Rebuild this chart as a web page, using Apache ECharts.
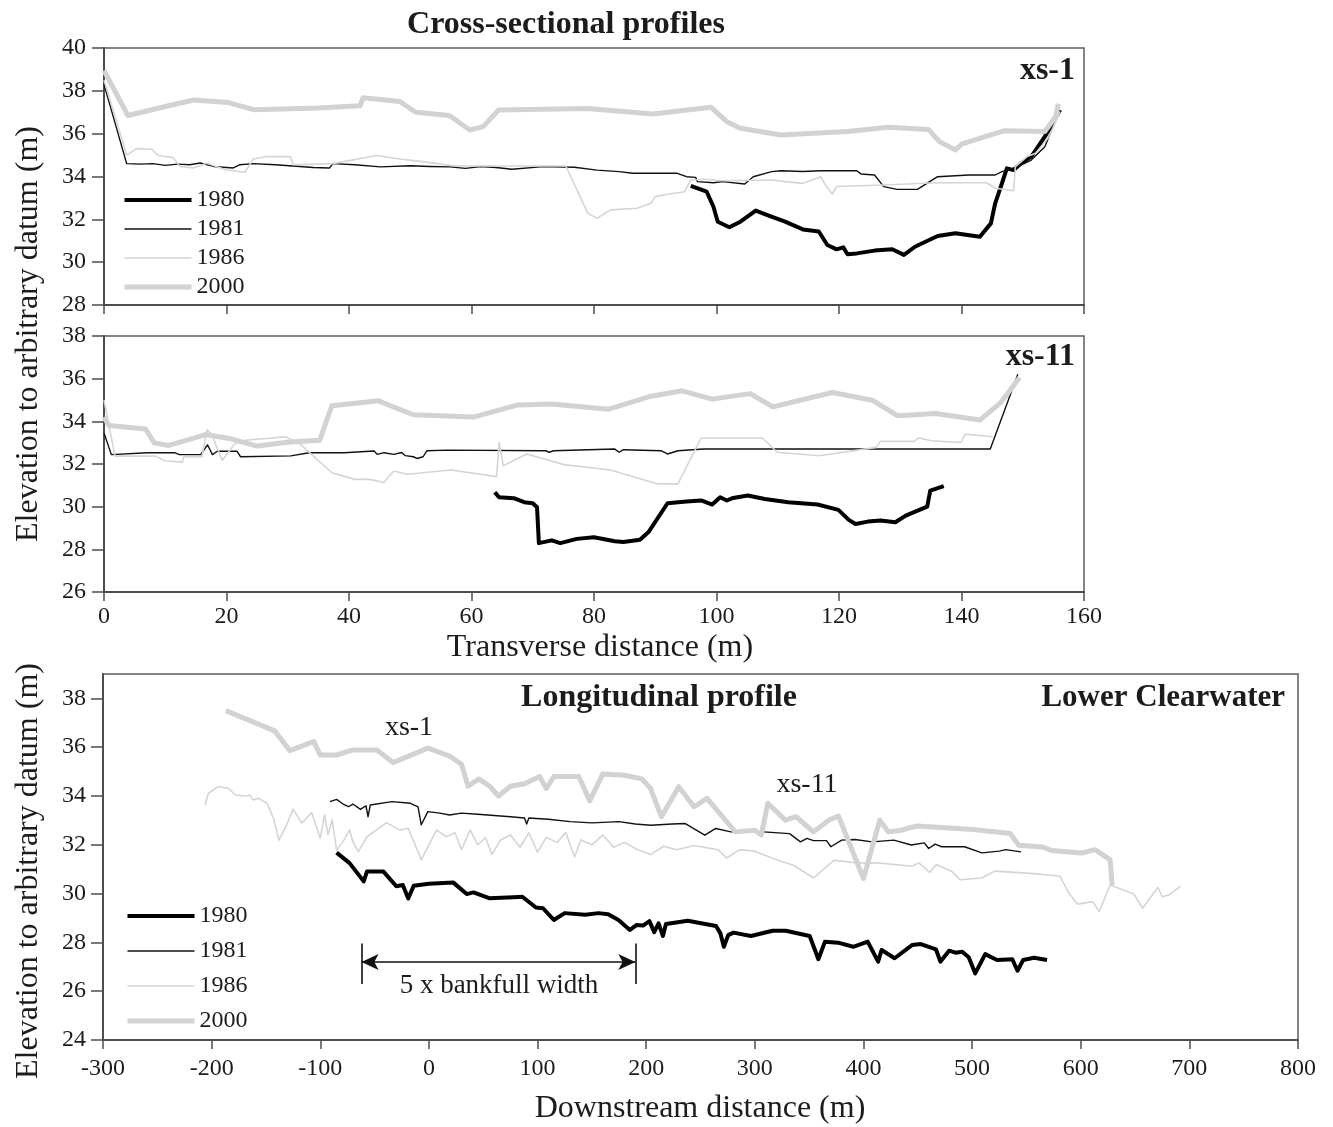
<!DOCTYPE html>
<html>
<head>
<meta charset="utf-8">
<script src="https://cdn.jsdelivr.net/npm/echarts@6/dist/echarts.min.js"></script>
<style>
  html, body { margin: 0; padding: 0; background: #ffffff; }
  #chart { width: 1333px; height: 1127px; }
</style>
</head>
<body>
<div id="chart"></div>
<script>
// Survey years shown in every panel
const years = ['1980', '1981', '1986', '2000'];

// Axis ticks
const transverseTicks = [0, 20, 40, 60, 80, 100, 120, 140, 160];
const longTicks = [-300, -200, -100, 0, 100, 200, 300, 400, 500, 600, 700, 800];
const elevTicksXs1 = [28, 30, 32, 34, 36, 38, 40];
const elevTicksXs11 = [26, 28, 30, 32, 34, 36, 38];
const elevTicksLong = [24, 26, 28, 30, 32, 34, 36, 38];

// Cross-section xs-1: [transverse distance (m), elevation (m)]
const xs1_1980 = [[95.8,33.56],[98.4,33.29],[99.5,32.59],[100.2,31.89],[102.1,31.63],[103.9,31.89],[106.4,32.41],[108.3,32.2],[111.2,31.89],[114.1,31.53],[116.7,31.43],[118.1,30.8],[119.6,30.6],[120.7,30.69],[121.4,30.37],[122.9,30.41],[125.8,30.54],[128.7,30.6],[130.6,30.34],[132.4,30.72],[136.1,31.22],[139,31.35],[143,31.19],[144.8,31.81],[145.5,32.75],[146.6,33.68],[147.4,34.38],[148.5,34.3],[149.9,34.65],[151.4,34.93],[153.6,35.86],[156.1,37.1]];
const xs1_1981 = [[0,38.3],[3.7,34.6],[6,34.58],[8,34.6],[10,34.52],[12,34.58],[14,34.55],[15.7,34.63],[17.9,34.47],[21.1,34.4],[22.2,34.55],[24.4,34.6],[28,34.55],[34.2,34.42],[36.8,34.4],[37.4,34.6],[41,34.55],[45.1,34.45],[50,34.5],[53.2,34.47],[56.5,34.45],[59,34.38],[61.5,34.46],[64,34.42],[66.6,34.34],[71.7,34.46],[76.8,34.43],[80.5,34.3],[84.1,34.23],[86.3,34.15],[93.6,34.15],[95.1,33.99],[96.6,33.96],[96.9,33.76],[99.5,33.71],[101,33.76],[104.6,33.65],[106,33.99],[109,34.23],[110.5,34.27],[114.1,34.23],[117,34.27],[122.9,34.27],[123.6,34.12],[125.8,34.07],[127.3,33.53],[129.5,33.4],[132.8,33.4],[136.1,33.99],[141.2,34.07],[145.5,34.07],[146.6,34.23],[149.2,34.46],[151.4,34.77],[153.6,35.39],[156.1,37.1]];
const xs1_1986 = [[0,38.5],[3.7,35.0],[5.3,35.3],[7.8,35.27],[8.9,34.98],[11.3,34.88],[12.4,34.47],[14.6,34.4],[16.8,34.62],[20,34.3],[23,34.2],[24.4,34.82],[26.6,34.93],[30.4,34.93],[30.9,34.55],[37.4,34.6],[44.5,34.98],[48.3,34.82],[52.7,34.67],[56.5,34.52],[58.9,34.49],[75.4,34.49],[79,32.28],[80.5,32.05],[82.7,32.44],[87,32.52],[89.3,32.75],[90,33.06],[92.2,33.18],[94.8,33.29],[95.8,33.84],[98,33.87],[101,33.8],[109,33.84],[111.2,33.76],[114.1,33.68],[117,33.99],[117.8,33.6],[118.9,33.18],[119.6,33.53],[127.3,33.6],[136,33.71],[144.1,33.71],[145.5,33.45],[148.5,33.34],[148.8,34.46],[150.7,34.93],[152.1,35.08],[154.3,35.86],[156.1,37.03]];
const xs1_2000 = [[0,38.95],[3.9,36.85],[9,37.2],[14.6,37.57],[20.3,37.45],[24.4,37.12],[35,37.2],[41.8,37.3],[42.3,37.68],[48.3,37.5],[50.9,37.0],[56.4,36.85],[59.7,36.17],[61.9,36.33],[64.4,37.1],[79,37.18],[89.6,36.92],[99.1,37.23],[101.7,36.56],[103.9,36.25],[110.5,35.94],[121.4,36.1],[128,36.3],[134.6,36.2],[136.4,35.63],[139,35.24],[140.1,35.52],[147,36.14],[153.6,36.1],[155.4,36.8],[155.8,37.4]];

// Cross-section xs-11
const xs11_1980 = [[63.8,30.68],[64.5,30.44],[66.9,30.4],[68.6,30.21],[70,30.16],[70.7,29.97],[71,28.29],[73.1,28.42],[74.5,28.29],[77.2,28.49],[80,28.57],[83.4,28.38],[84.8,28.34],[87.5,28.45],[88.9,28.81],[92,30.16],[95.1,30.24],[97.5,30.29],[99.3,30.1],[100.6,30.44],[101.7,30.29],[102.7,30.41],[105.1,30.52],[107.9,30.36],[111.7,30.21],[116.5,30.1],[119.9,29.85],[121.6,29.38],[122.7,29.19],[124.7,29.3],[126.8,29.35],[129.2,29.27],[130.9,29.58],[134.4,30.0],[134.9,30.75],[137.1,30.96]];
const xs11_1981 = [[0,33.45],[1.2,32.44],[7.1,32.53],[11.5,32.53],[12.3,32.44],[15.8,32.44],[16.9,32.9],[17.7,32.44],[18.5,32.6],[21.7,32.6],[22.3,32.34],[30.5,32.38],[33.5,32.53],[39.2,32.53],[39.4,32.61],[44.1,32.61],[44.6,32.45],[45.7,32.53],[47.3,32.45],[48.6,32.54],[49.2,32.39],[50.5,32.34],[51.1,32.26],[52.1,32.34],[52.7,32.62],[56,32.65],[72.1,32.62],[72.7,32.55],[73.4,32.62],[83.4,32.7],[84.1,32.55],[84.8,32.67],[91,32.62],[92,32.47],[93.7,32.62],[97.9,32.7],[144.7,32.7],[149.2,36.21]];
const xs11_1986 = [[0,35.0],[1.8,32.37],[8.4,32.37],[10,32.14],[12.8,32.09],[13,32.34],[16,32.34],[16.8,33.61],[17.6,33.38],[19.3,32.18],[21.4,32.96],[23.1,33.11],[29.6,33.27],[31.8,32.99],[37.2,31.59],[41,31.28],[43.4,31.28],[45.7,31.13],[47.3,31.67],[49.5,31.52],[56.6,31.72],[64.1,31.41],[64.5,33.01],[65.2,31.92],[69,32.47],[75.1,31.97],[82.7,31.72],[90.3,31.07],[93.7,31.07],[97.5,33.22],[107.5,33.22],[109.9,32.55],[116.8,32.39],[126.1,32.78],[126.8,33.06],[132.3,33.06],[133,33.22],[135.1,33.09],[139.9,33.01],[140.6,33.4],[145.1,33.28]];
const xs11_2000 = [[0,34.2],[0.8,33.8],[6.8,33.64],[8.2,32.99],[10.6,32.87],[16.6,33.38],[20.7,33.18],[25,32.84],[29.9,33.02],[35.2,33.11],[37.2,34.73],[44.8,34.96],[50.5,34.31],[60.3,34.2],[67.6,34.77],[73.1,34.81],[82.4,34.57],[88.9,35.15],[94.4,35.43],[99.3,35.04],[105.5,35.3],[109.2,34.68],[118.9,35.35],[125.4,34.99],[129.6,34.26],[135.8,34.37],[143,34.06],[146.4,34.88],[149.5,36.05]];

// Longitudinal thalweg profile: [downstream distance (m), elevation (m)]
const long_1980 = [[-85,31.68],[-73,31.25],[-60,30.5],[-57,30.91],[-42,30.91],[-30,30.3],[-24,30.35],[-19,29.8],[-14,30.32],[0,30.4],[22.5,30.45],[34.8,29.98],[41,30.05],[55.4,29.81],[78,29.85],[86,29.87],[98.5,29.43],[105,29.4],[115,28.92],[125,29.2],[144,29.13],[156,29.2],[165,29.15],[174.5,28.92],[185,28.51],[191,28.71],[197,28.69],[203,28.87],[207.4,28.42],[211.4,28.78],[215.4,28.26],[218.2,28.75],[238.3,28.89],[264.3,28.67],[268.3,28.37],[271.5,27.82],[275.5,28.3],[280.4,28.4],[296.4,28.26],[316.4,28.48],[328.5,28.48],[350.5,28.26],[358.5,27.31],[364.6,28.03],[376.6,27.99],[390.6,27.82],[403.9,28.03],[413.5,27.21],[416.7,27.69],[428.7,27.35],[444.7,27.89],[452.8,27.93],[466.8,27.71],[470.8,27.21],[478.8,27.66],[484.8,27.58],[490.9,27.62],[496.9,27.39],[502.9,26.73],[512.1,27.52],[522.9,27.28],[537,27.31],[541.8,26.84],[547,27.28],[557,27.37],[569,27.28]];
const long_1981 = [[-91,33.77],[-85,33.86],[-79,33.67],[-74,33.56],[-70,33.67],[-63,33.45],[-58,33.6],[-56,33.15],[-54,33.63],[-34,33.77],[-17,33.7],[-10,33.55],[-7,32.82],[-1,33.36],[10,33.3],[19,33.22],[30,33.3],[45,33.25],[60,33.2],[75,33.15],[88,33.1],[90,32.85],[92,33.1],[110,33.05],[130,32.95],[150,32.9],[175,32.95],[190,32.85],[204,32.8],[224,32.85],[236,32.87],[254,32.4],[264,32.67],[278,32.53],[308,32.53],[332,32.46],[342,32.12],[348,32.26],[354,32.17],[366,32.17],[370,31.92],[380,32.19],[392,32.22],[408,32.12],[428,32.19],[444,31.99],[456,32.08],[460,31.85],[466,32.03],[472,31.92],[493,31.92],[509,31.67],[525,31.74],[531,31.8],[545,31.71]];
const long_1986 = [[-206,33.63],[-203,34.11],[-194,34.39],[-185,34.32],[-178,34.04],[-168,34.0],[-165,34.04],[-162,33.84],[-157,33.91],[-149,33.7],[-143,33.08],[-138,32.19],[-131,32.81],[-125,33.46],[-117,32.89],[-108,33.32],[-100,32.27],[-96,33.23],[-93,32.41],[-89,33.02],[-85,31.79],[-79,32.13],[-73,32.61],[-70,32.13],[-65,31.72],[-57,32.33],[-39,32.91],[-27,32.61],[-19,32.68],[-7,31.38],[7,32.61],[16,32.33],[24,32.5],[30,31.8],[38,32.6],[45,32.0],[52,32.3],[58,31.6],[66,32.2],[75,32.4],[84,31.9],[92,32.5],[100,31.7],[108,32.3],[118,32.1],[126,32.5],[134,31.5],[140,32.2],[150,32.0],[160,32.4],[170,31.9],[180,32.1],[192,31.8],[204,31.6],[216,31.94],[228,31.8],[244,31.97],[266,31.8],[274,31.46],[286,31.8],[300,31.74],[320,31.39],[336,31.15],[354,30.64],[373,31.37],[393,31.26],[413,31.26],[445,31.12],[451,31.26],[461,30.87],[467,31.19],[481,30.92],[489,30.57],[509,30.64],[521,30.92],[557,30.82],[581,30.71],[589,30.03],[597,29.57],[611,29.67],[617,29.26],[627,30.35],[649,29.98],[657,29.4],[671,30.26],[675,29.87],[681,29.94],[692,30.31]];
const long_2000 = [[-187,37.5],[-142,36.67],[-128,35.86],[-106,36.23],[-100,35.68],[-85,35.68],[-70,35.89],[-48,35.89],[-33,35.37],[-1,35.96],[19,35.64],[30,35.3],[36,34.4],[46,34.7],[56,34.4],[64,34.0],[75,34.4],[88,34.5],[102,34.8],[108,34.3],[115,34.8],[138,34.8],[148,33.8],[160,34.9],[180,34.85],[196,34.7],[204,34.31],[214,33.15],[230,34.38],[244,33.56],[256,33.9],[282,32.53],[300,32.6],[306,32.4],[312,33.7],[328,33.01],[338,33.15],[354,32.53],[368,33.01],[377,33.18],[400,30.62],[415,33.01],[423,32.53],[435,32.6],[449,32.77],[501,32.63],[535,32.46],[543,31.98],[565,31.91],[573,31.77],[601,31.66],[613,31.8],[627,31.39],[629,30.34]];

// Reach length bar: five bankfull widths
const bankfullSpan = [-62, 190];
const bankfullLevel = 27.2;
const bankfullBar = [26.3, 27.95];

const FONT = '"Liberation Serif", "Times New Roman", serif';
const AXIS_COLOR = '#4d4d4d';
const TEXT_COLOR = '#1c1c1c';

const lineLook = {
  '1980': { color: '#000000', width: 4 },
  '1981': { color: '#111111', width: 1.4 },
  '1986': { color: '#d5d5d5', width: 1.6 },
  '2000': { color: '#d2d2d2', width: 5 }
};

function profile(name, data, idx) {
  return {
    name: name,
    type: 'line',
    xAxisIndex: idx,
    yAxisIndex: idx,
    data: data,
    symbol: 'none',
    smooth: false,
    lineStyle: { color: lineLook[name].color, width: lineLook[name].width, join: 'round' },
    itemStyle: { color: lineLook[name].color },
    emphasis: { disabled: true },
    z: 2
  };
}

function xAxisDef(idx, min, max, interval, showLabels, labelMargin) {
  return {
    type: 'value', gridIndex: idx, min: min, max: max, interval: interval,
    splitLine: { show: false },
    axisLine: { onZero: false, lineStyle: { color: AXIS_COLOR, width: 2 } },
    axisTick: { length: 9, lineStyle: { color: AXIS_COLOR, width: 1.5 } },
    axisLabel: { show: showLabels, margin: labelMargin, fontSize: 24, fontFamily: FONT, color: TEXT_COLOR }
  };
}

function yAxisDef(idx, min, max, ticks, labelMargin) {
  return {
    type: 'value', gridIndex: idx, min: min, max: max, interval: 2,
    splitLine: { show: false },
    axisLine: { onZero: false, lineStyle: { color: AXIS_COLOR, width: 2 } },
    axisTick: { length: 12, customValues: ticks, lineStyle: { color: AXIS_COLOR, width: 1.5 } },
    axisLabel: { margin: labelMargin, customValues: ticks, fontSize: 24, fontFamily: FONT, color: TEXT_COLOR }
  };
}

function label(text, x, y, opts) {
  opts = opts || {};
  return {
    type: 'text', x: x, y: y, rotation: opts.rotation || 0, silent: true,
    style: {
      text: text,
      font: (opts.bold ? 'bold ' : '') + (opts.size || 32) + 'px ' + FONT,
      fill: TEXT_COLOR,
      align: opts.align || 'center', textAlign: opts.align || 'center',
      verticalAlign: 'middle', textVerticalAlign: 'middle'
    }
  };
}

const gridLook = { show: true, borderColor: '#5e5e5e', borderWidth: 1.5, backgroundColor: 'transparent' };

const series = [];
[[xs1_1980, xs1_1981, xs1_1986, xs1_2000], [xs11_1980, xs11_1981, xs11_1986, xs11_2000], [long_1980, long_1981, long_1986, long_2000]]
  .forEach(function (set, idx) {
    set.forEach(function (data, k) { series.push(profile(years[k], data, idx)); });
  });

// Reach-length annotation drawn in data coordinates of the longitudinal panel
series.push({
  name: 'reach', type: 'line', xAxisIndex: 2, yAxisIndex: 2, data: [], symbol: 'none',
  markLine: {
    silent: true, animation: false, symbol: ['none', 'none'], symbolSize: [12, 17],
    label: { show: false },
    lineStyle: { color: '#111111', width: 1.6, type: 'solid' },
    emphasis: { disabled: true },
    data: [
      [{ coord: [bankfullSpan[0], bankfullLevel], symbol: 'arrow' }, { coord: [bankfullSpan[1], bankfullLevel], symbol: 'arrow' }],
      [{ coord: [bankfullSpan[0], bankfullBar[0]] }, { coord: [bankfullSpan[0], bankfullBar[1]] }],
      [{ coord: [bankfullSpan[1], bankfullBar[0]] }, { coord: [bankfullSpan[1], bankfullBar[1]] }]
    ]
  }
});

// Legend keys are plain line samples (no marker)
const legendBase = {
  data: years, orient: 'vertical', itemWidth: 67, itemHeight: 14, selectedMode: false,
  textStyle: { fontSize: 24, fontFamily: FONT, color: TEXT_COLOR },
  lineStyle: { width: 'inherit' },
  itemStyle: { opacity: 0, borderWidth: 0 }
};

const option = {
  animation: false,
  backgroundColor: '#ffffff',
  grid: [
    Object.assign({ left: 104, top: 48, width: 980, height: 257 }, gridLook),
    Object.assign({ left: 104, top: 336, width: 980, height: 256 }, gridLook),
    Object.assign({ left: 103, top: 674, width: 1195, height: 366 }, gridLook)
  ],
  xAxis: [
    xAxisDef(0, transverseTicks[0], transverseTicks[transverseTicks.length - 1], 20, false, 12),
    xAxisDef(1, transverseTicks[0], transverseTicks[transverseTicks.length - 1], 20, true, 13),
    xAxisDef(2, longTicks[0], longTicks[longTicks.length - 1], 100, true, 17)
  ],
  yAxis: [
    yAxisDef(0, 28, 40, elevTicksXs1, 18),
    yAxisDef(1, 26, 38, elevTicksXs11, 18),
    yAxisDef(2, 24, 39, elevTicksLong, 17)
  ],
  legend: [
    Object.assign({ left: 117, top: 183, itemGap: 5 }, legendBase),
    Object.assign({ left: 120, top: 899, itemGap: 11 }, legendBase)
  ],
  graphic: { elements: [
    label('Cross-sectional profiles', 566, 25, { bold: true, size: 32 }),
    label('xs-1', 1075, 71, { bold: true, size: 32, align: 'right' }),
    label('xs-11', 1075, 357, { bold: true, size: 32, align: 'right' }),
    label('Elevation to arbitrary datum (m)', 29, 334, { size: 32, rotation: Math.PI / 2 }),
    label('Transverse distance (m)', 600, 648, { size: 32 }),
    label('Longitudinal profile', 659, 698, { bold: true, size: 32 }),
    label('Lower Clearwater', 1285, 698, { bold: true, size: 31, align: 'right' }),
    label('xs-1', 409, 728, { size: 28 }),
    label('xs-11', 807, 785, { size: 28 }),
    label('5 x bankfull width', 499, 986, { size: 27 }),
    label('Elevation to arbitrary datum (m)', 29, 871, { size: 32, rotation: Math.PI / 2 }),
    label('Downstream distance (m)', 700, 1109, { size: 32 })
  ] },
  series: series
};

const chart = echarts.init(document.getElementById('chart'), null, { renderer: 'canvas' });
chart.setOption(option);
</script>
</body>
</html>
